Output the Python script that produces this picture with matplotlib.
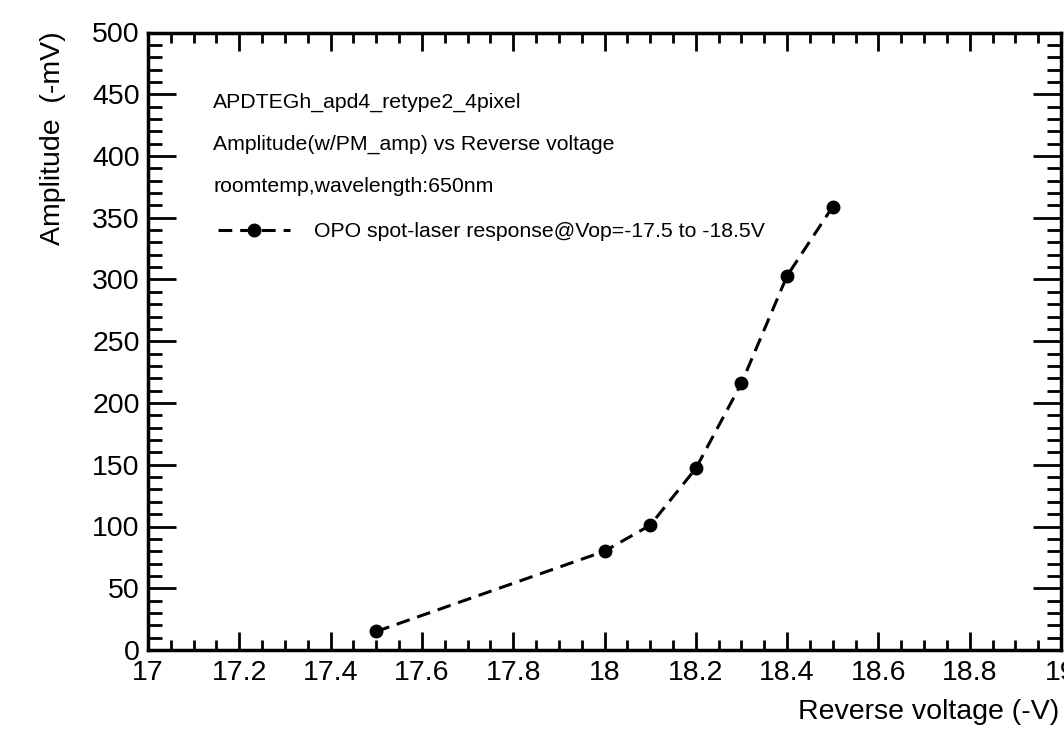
import matplotlib
matplotlib.use('Agg')
import matplotlib.pyplot as plt
from matplotlib.ticker import MultipleLocator

# reverse voltage (-V) and amplitude (-mV)
voltage = [17.5, 18.0, 18.1, 18.2, 18.3, 18.4, 18.5]
amplitude = [15, 80, 101, 147, 216, 303, 359]

header_lines = ['APDTEGh_apd4_retype2_4pixel',
                'Amplitude(w/PM_amp) vs Reverse voltage',
                'roomtemp,wavelength:650nm']
series_label = 'OPO spot-laser response@Vop=-17.5 to -18.5V'

plt.rcParams['font.family'] = ['Liberation Sans', 'DejaVu Sans']

fig = plt.figure(figsize=(10.64, 7.40), dpi=100)
ax = fig.add_axes([148 / 1064, 90 / 740, 913 / 1064, 617.5 / 740])

ax.plot(voltage, amplitude, color='black', lw=2.2, ls=(0, (4.5, 2.6)),
        marker='o', ms=9, label=series_label)

ax.set_xlim(17, 19)
ax.set_ylim(0, 500)
ax.xaxis.set_major_locator(MultipleLocator(0.2))
ax.xaxis.set_minor_locator(MultipleLocator(0.05))
ax.yaxis.set_major_locator(MultipleLocator(50))
ax.yaxis.set_minor_locator(MultipleLocator(10))
ax.xaxis.set_major_formatter(plt.FuncFormatter(lambda v, p: f'{v:g}'))

for s in ax.spines.values():
    s.set_linewidth(2.5)
ax.tick_params(axis='both', which='both', direction='in',
               top=True, right=True, width=2, labelsize=20.5)
ax.tick_params(axis='x', which='major', length=13, pad=7)
ax.tick_params(axis='x', which='minor', length=7)
ax.tick_params(axis='y', which='major', length=20, pad=6)
ax.tick_params(axis='y', which='minor', length=10)

# ROOT style titles
fig.text(53 / 1064, 1 - 31 / 740, 'Amplitude  (-mV)', rotation=90,
         ha='center', va='top', fontsize=20.5)
fig.text(1059 / 1064, 1 - 712 / 740, 'Reverse voltage (-V)',
         ha='right', va='center', fontsize=20.5)

# legend header lines
for i, line in enumerate(header_lines):
    ax.text(0.0712, 0.8874 - i * 0.0685, line, transform=ax.transAxes,
            ha='left', va='center', fontsize=15.3)

ax.legend(loc='center left', bbox_to_anchor=(0.0767, 0.677), frameon=False,
          fontsize=15.3, handlelength=3.4, handletextpad=1.1,
          borderpad=0, borderaxespad=0)

fig.savefig('out.png', dpi=100)
